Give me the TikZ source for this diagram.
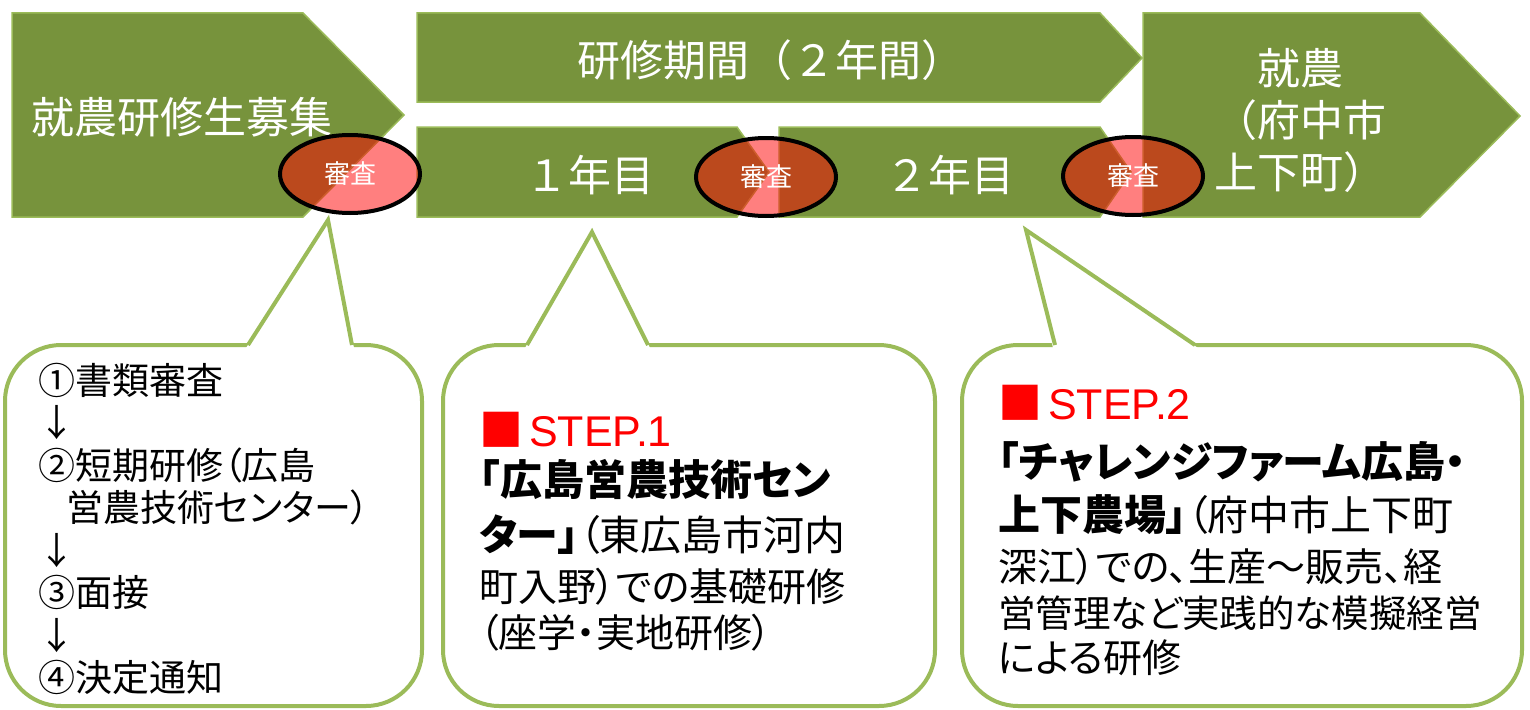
\documentclass[tikz,border=0pt]{standalone}
\usepackage{fontspec}
\setmainfont{Noto Sans CJK JP}
\newfontfamily\jpprop{Noto Sans CJK JP}[RawFeature=+palt]
\newfontfamily\latinsans{Liberation Sans}
\usetikzlibrary{shapes.geometric}
\definecolor{leaf}{HTML}{77933C}
\definecolor{leafline}{HTML}{9BBB59}
\newcommand\heavytext[1]{{\fontsize{42}{48}\selectfont\bfseries #1}}
\newcommand\steplabel[1]{{\color{red}{\fontsize{44}{48}\selectfont\rmfamily ■}\hspace{6pt}{\fontsize{43}{48}\selectfont\latinsans STEP.#1}}}
\tikzset{
  phase/.style={fill=leaf, draw=leafline, line width=1.5pt},
  phasetext/.style={text=white, align=center, font=\fontsize{43}{52}\selectfont},
  exam/.style={ellipse, draw=black, line width=4pt, fill=red, fill opacity=.5,
    draw opacity=1, text opacity=1, text=white, inner sep=0pt,
    minimum width=140pt, minimum height=78pt, font=\fontsize{26}{30}\selectfont},
  bubble/.style={draw=leafline, line width=4pt, fill=white, rounded corners=56pt},
  tail/.style={draw=leafline, line width=4pt},
  note/.style={anchor=base west, inner sep=0pt, font=\jpprop\fontsize{39}{46}\selectfont},
}
\begin{document}
\begin{tikzpicture}[x=1pt, y=-1pt]
    \useasboundingbox (0,0) rectangle (1530,709);
    % phases
    \draw[phase] (12,13) -- (303,13) -- (404,115) -- (303,217) -- (12,217) -- cycle;
    \draw[phase] (417,13) -- (1100,13) -- (1142,58) -- (1100,102) -- (417,102) -- cycle;
    \draw[phase] (417,127) -- (737,127) -- (769,172) -- (737,217) -- (417,217) -- cycle;
    \draw[phase] (779,127) -- (1100,127) -- (1131,172) -- (1100,217) -- (779,217) -- cycle;
    \draw[phase] (1143,13) -- (1420,13) -- (1520,116) -- (1420,217) -- (1143,217) -- cycle;
    \node[phasetext] (recruit) at (182,117) {就農研修生募集};
    \node[phasetext] (period) at (771,60) {研修期間（２年間）};
    \node[phasetext] (year1) at (590,175) {１年目};
    \node[phasetext] (year2) at (950,175) {２年目};
    \node[phasetext] (farming) at (1300,120) {就農\\（府中市\\上下町）};
    % screenings
    \node[exam] (exam1) at (350,174) {審査};
    \node[exam] (exam2) at (766,177) {審査};
    \node[exam] (exam3) at (1133,176) {審査};
    % callouts
    \draw[bubble] (5,345) rectangle (422,706);
    \fill[white] (246,348) -- (328,220) -- (354,348) -- cycle;
    \draw[tail] (248,345) -- (328,220) -- (352,345);
    \draw[bubble] (443,345) rectangle (935,706);
    \fill[white] (525,348) -- (592,232) -- (650,348) -- cycle;
    \draw[tail] (527,345) -- (592,232) -- (648,345);
    \draw[bubble] (962,345) rectangle (1522,706);
    \fill[white] (1053,348) -- (1026,230) -- (1198,348) -- cycle;
    \draw[tail] (1055,345) -- (1026,230) -- (1195,345);
    \foreach \xx/\yy/\words [count=\k] in {38/394/①書類審査, 38/436.5/↓,
        38/479/②短期研修（広島, 66/521.5/営農技術センター）, 38/564/↓,
        38/606.5/③面接, 38/649/↓, 38/691.5/④決定通知}
        \node[note, font=\jpprop\fontsize{37}{44}\selectfont] (steps-\k) at (\xx,\yy) {\words};
    \foreach \yy/\words [count=\k] in {446/\steplabel{1},
        495/\heavytext{「広島営農技術セン}, 550/\heavytext{ター」}{\fontsize{41}{46}\selectfont（東広島市河内},
        601/町入野）での基礎研修, 647/（座学・実地研修）}
        \node[note] (first-\k) at (479,\yy) {\words};
    \foreach \yy/\words [count=\k] in {419/\steplabel{2},
        477/\heavytext{「チャレンジファーム広島・}, 530/\heavytext{上下農場」}{\fontsize{41}{46}\selectfont（府中市上下町},
        581/深江）での、生産～販売、経, 627/{\fontsize{37.5}{46}\selectfont 営管理など実践的な模擬経営}, 672/による研修}
        \node[note] (second-\k) at (998,\yy) {\words};
\end{tikzpicture}
\end{document}
